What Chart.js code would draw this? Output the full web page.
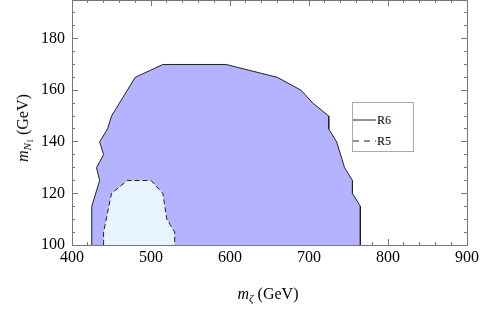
<!DOCTYPE html>
<html>
<head>
<meta charset="utf-8">
<script src="https://cdn.jsdelivr.net/npm/chart.js@4/dist/chart.umd.min.js"></script>
<style>
  body { margin: 0; background: #fff; }
  #wrap { position: relative; width: 500px; height: 312px; font-family: "Liberation Serif", "Times New Roman", "DejaVu Serif", serif; color: #000; }
  #xTitle { position: absolute; left: 268px; top: 285px; transform: translateX(-50%); font-size: 16px; white-space: nowrap; }
  #yTitle { position: absolute; left: 23px; top: 128px; transform: translate(-50%, -50%) rotate(-90deg); font-size: 16px; white-space: nowrap; }
  sub { font-size: 70%; vertical-align: -0.3em; line-height: 0; }
  #legend { position: absolute; left: 352px; top: 102px; width: 62px; height: 50px; box-sizing: border-box;
            border: 1px solid #aaa; background: #fff; font-size: 12px; }
  .row { position: absolute; left: 0; height: 14px; display: flex; align-items: center; }
  .row svg { display: block; margin-right: 1px; }
</style>
</head>
<body>
<div id="wrap">
  <canvas id="chart" width="500" height="312"></canvas>
  <div id="xTitle"><i>m</i><sub><i>ζ</i></sub> (GeV)</div>
  <div id="yTitle"><i>m</i><sub><i>N</i><sub>1</sub></sub> (GeV)</div>
  <div id="legend">
    <div class="row" style="top:10px"><svg width="23" height="4"><line x1="0" y1="2" x2="23" y2="2" stroke="#222" stroke-width="1"/></svg>R6</div>
    <div class="row" style="top:31px"><svg width="23" height="4"><line x1="0" y1="2" x2="23" y2="2" stroke="#222" stroke-width="1" stroke-dasharray="6,5"/></svg>R5</div>
  </div>
</div>
<script>
// Data
const r6X = [425, 425, 435, 431, 440, 435, 445, 450, 480, 515, 595, 660, 690, 705, 725, 725, 735, 745, 755, 755, 765, 765];
const r6Y = [100, 115, 125, 130, 135, 140, 145, 150, 165, 170, 170, 165, 160, 155, 150, 145, 140, 130, 125, 120, 115, 100];
const r5X = [440, 440, 450, 470, 500, 515, 520, 530, 530];
const r5Y = [100, 105, 120, 125, 125, 120, 110, 105, 100];

const xRange = [400, 900];
const yRange = [100, 195];
const xMajorStep = 100, xMinorStep = 20;
const yMajorStep = 20, yMinorStep = 5;

const frameColor = '#777';
const tickFont = { family: '"Liberation Serif", "Times New Roman", "DejaVu Serif", serif', size: 16 };

function toPoints(xs, ys) {
    return xs.map((x, i) => ({ x: x, y: ys[i] }));
}

// helper for one axis (major ticks carry labels, minor ones are just short marks)
function axis(pos, range, step, opts) {
    const horizontal = pos === 'top' || pos === 'bottom';
    return {
        type: 'linear',
        position: pos,
        min: range[0],
        max: range[1],
        weight: opts.major ? 1 : 0,
        ticks: {
            stepSize: step,
            includeBounds: false,
            display: !!opts.labels,
            padding: opts.padding || 0,
            font: tickFont,
            color: '#000'
        },
        grid: {
            drawOnChartArea: false,
            tickLength: opts.major ? -6 : -3,
            color: frameColor,
            lineWidth: 1
        },
        border: { display: !!opts.major, color: frameColor, width: 1 },
        afterFit: function(scale) {
            if (horizontal) scale.height = opts.size || 0;
            else scale.width = opts.size || 0;
            // no extra room for half labels, the frame sits where we put it
            scale.paddingTop = 0;
            scale.paddingBottom = 0;
            scale.paddingLeft = 0;
            scale.paddingRight = 0;
        }
    };
}

new Chart(document.getElementById('chart'), {
    type: 'scatter',
    data: {
        datasets: [
            {
                label: 'R6',
                data: toPoints(r6X, r6Y),
                showLine: true,
                fill: 'start',
                backgroundColor: 'rgb(179,179,255)',
                borderColor: '#222',
                borderWidth: 1,
                pointRadius: 0,
                tension: 0,
                order: 1
            },
            {
                label: 'R5',
                data: toPoints(r5X, r5Y),
                showLine: true,
                fill: 'start',
                backgroundColor: 'rgb(232,244,253)',
                borderColor: '#222',
                borderWidth: 1,
                borderDash: [5, 3],
                pointRadius: 0,
                tension: 0,
                order: 0
            }
        ]
    },
    options: {
        responsive: false,
        animation: false,
        devicePixelRatio: 1,
        layout: { padding: 0 },
        plugins: {
            legend: { display: false },
            tooltip: { enabled: false }
        },
        scales: {
            x: axis('bottom', xRange, xMajorStep, { major: true, labels: true, size: 67, padding: 9 }),
            xMinor: axis('bottom', xRange, xMinorStep, {}),
            xTop: axis('top', xRange, xMajorStep, { major: true }),
            xTopMinor: axis('top', xRange, xMinorStep, {}),
            y: axis('left', yRange, yMajorStep, { major: true, labels: true, size: 72, padding: 13 }),
            yMinor: axis('left', yRange, yMinorStep, {}),
            yRight: axis('right', yRange, yMajorStep, { major: true, size: 33 }),
            yRightMinor: axis('right', yRange, yMinorStep, {})
        }
    }
});
</script>
</body>
</html>
